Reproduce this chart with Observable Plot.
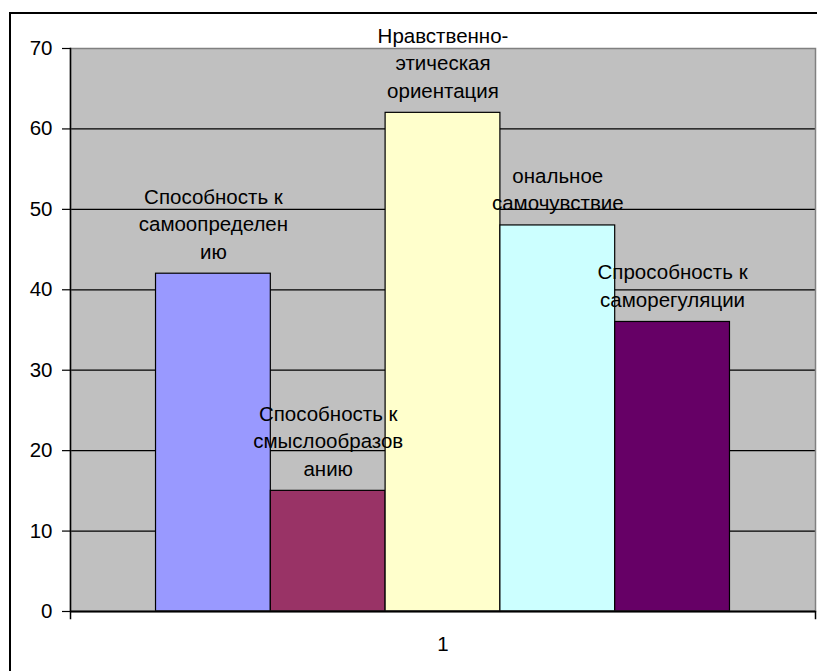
<!DOCTYPE html>
<html>
<head>
<meta charset="utf-8">
<script src="https://cdn.jsdelivr.net/npm/d3@7"></script>
<script src="https://cdn.jsdelivr.net/npm/@observablehq/plot@0.6"></script>
<style>
  html, body { margin: 0; padding: 0; background: white; overflow: hidden; }
  #wrap { position: relative; width: 817px; height: 671px; }
  #chart { position: absolute; left: 0; top: 0; }
  #border { position: absolute; left: 9px; top: 12px; width: 840px; height: 700px; border: 2px solid black; box-sizing: border-box; pointer-events: none; }
</style>
</head>
<body>
<div id="wrap"><div id="chart"></div><div id="border"></div></div>
<script>
const labels = [
  "Способность к\nсамоопределен\nию",
  "Способность к\nсмыслообразов\nанию",
  "Нравственно-\nэтическая\nориентация",
  "ональное\nсамочувствие",
  "Спрособность к\nсаморегуляции"
];
const values = [42, 15, 62, 48, 36];
const colors = ["#9999FF", "#993366", "#FFFFCC", "#CCFFFF", "#660066"];
const groupLabels = ["1"];
const yTicks = [0, 10, 20, 30, 40, 50, 60, 70];

const data = labels.map((label, i) => ({label, value: values[i]}));

const plot = Plot.plot({
  width: 817,
  height: 671,
  marginTop: 48,
  marginBottom: 60,
  marginLeft: 70,
  marginRight: 2,
  style: {fontFamily: "'Liberation Sans', Arial, sans-serif", fontSize: "20px", background: "transparent", color: "black"},
  x: {type: "band", domain: labels, paddingInner: 0, paddingOuter: 0.745, round: false, axis: null},
  y: {domain: [0, 70], axis: null},
  color: {domain: labels, range: colors},
  marks: [
    Plot.frame({fill: "#C0C0C0"}),
    Plot.gridY(yTicks, {stroke: "black", strokeOpacity: 1, strokeWidth: 1.2}),
    Plot.barY(data, {x: "label", y: "value", fill: "label", stroke: "black", strokeWidth: 1.2, inset: 0}),
    Plot.frame({stroke: "#808080", strokeWidth: 1.5}),
    Plot.frame({anchor: "left", stroke: "black", strokeWidth: 1.5, insetBottom: -7}),
    Plot.frame({anchor: "right", stroke: "black", strokeWidth: 1.5, insetBottom: -7, insetTop: 563}),
    Plot.ruleY([0], {stroke: "black", strokeWidth: 2}),
    Plot.axisY(yTicks, {label: null, tickSize: 8, tickPadding: 10, fontSize: 20.5, stroke: "black", strokeWidth: 1.2}),
    Plot.text(data, {x: "label", y: "value", text: "label", lineAnchor: "bottom", dy: -15, lineHeight: 1.34, fontSize: 20.5, fill: "black"}),
    Plot.text(groupLabels, {frameAnchor: "bottom", text: d => d, lineAnchor: "bottom", dy: 39, fontSize: 20.5, fill: "black"})
  ]
});
document.getElementById("chart").appendChild(plot);
</script>
</body>
</html>
